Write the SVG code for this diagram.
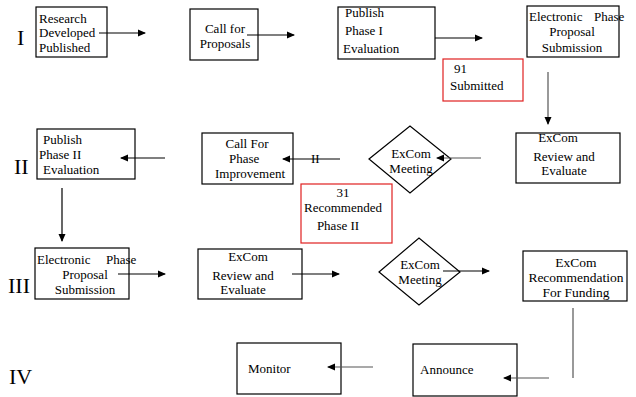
<svg xmlns="http://www.w3.org/2000/svg" width="636" height="397" viewBox="0 0 636 397">
<style>
.b{fill:#fff;stroke:#000;stroke-width:1.2}
.r{fill:#fff;stroke:#e02020;stroke-width:1.2}
.t{font-family:"Liberation Serif","Times New Roman",serif;font-size:13px;fill:#000}
.c{text-anchor:middle}
.n{font-family:"Liberation Serif","Times New Roman",serif;font-size:22px;fill:#000}
.l{stroke:#000;stroke-width:1.2;fill:none}
.g{stroke:#555;stroke-width:1.2;fill:none}
</style>
<defs>
<marker id="a" markerWidth="8" markerHeight="8" refX="7" refY="4" orient="auto" markerUnits="userSpaceOnUse">
<path d="M0,0.5 L8,4 L0,7.5 Z" fill="#000"/>
</marker>
</defs>
<rect width="636" height="397" fill="#fff"/>
<g id="labels">
<text class="n" x="17" y="45">I</text>
<text class="n" x="14" y="174">II</text>
<text class="n" x="8" y="293">III</text>
<text class="n" x="9" y="384">IV</text>
</g>
<g id="n1"><rect class="b" x="36" y="7" width="71" height="50"/>
<text class="t" x="39" y="23">Research</text><text class="t" x="39" y="37">Developed</text><text class="t" x="39" y="52">Published</text></g>
<g id="n2"><rect class="b" x="190" y="9" width="68" height="51"/>
<text class="t c" x="225" y="33">Call for</text><text class="t c" x="225" y="48">Proposals</text></g>
<g id="n3"><rect class="b" x="338" y="7" width="97" height="52"/>
<text class="t" x="345" y="17">Publish</text><text class="t" x="345" y="35">Phase I</text><text class="t" x="343" y="53">Evaluation</text></g>
<g id="n4"><rect class="b" x="527" y="6" width="92" height="51"/>
<text class="t" x="529" y="21">Electronic<tspan x="594">Phase</tspan></text><text class="t c" x="572" y="36">Proposal</text><text class="t c" x="572" y="52">Submission</text></g>
<g id="n5"><rect class="r" x="443" y="59" width="80" height="42"/>
<text class="t" x="454" y="73">91</text><text class="t" x="450" y="90">Submitted</text></g>
<g id="n6"><rect class="b" x="516" y="133" width="104" height="50"/>
<text class="t c" x="558" y="142">ExCom</text><text class="t c" x="564" y="161">Review and</text><text class="t c" x="564" y="175">Evaluate</text></g>
<g id="n7"><path class="b" d="M369,159 L410,126 L451,159 L410,193 Z"/>
<text class="t c" x="411" y="158">ExCom</text><text class="t c" x="411" y="173">Meeting</text></g>
<g id="n8"><rect class="b" x="202" y="133" width="91" height="51"/>
<text class="t c" x="247" y="148">Call For</text><text class="t" x="229" y="163">Phase</text><text class="t" x="215" y="178">Improvement</text></g>
<g id="n9"><rect class="b" x="37" y="129" width="98" height="50"/>
<text class="t" x="43" y="144">Publish</text><text class="t" x="39" y="159">Phase II</text><text class="t" x="43" y="174">Evaluation</text></g>
<g id="n10"><rect class="r" x="301" y="184" width="91" height="59"/>
<text class="t c" x="343" y="197">31</text><text class="t c" x="343" y="212">Recommended</text><text class="t c" x="338" y="230">Phase II</text></g>
<g id="n11"><rect class="b" x="35" y="248" width="94" height="51"/>
<text class="t" x="37" y="264">Electronic<tspan x="106">Phase</tspan></text><text class="t c" x="85" y="279">Proposal</text><text class="t c" x="85" y="294">Submission</text></g>
<g id="n12"><rect class="b" x="198" y="249" width="104" height="50"/>
<text class="t c" x="248" y="261">ExCom</text><text class="t c" x="243" y="280">Review and</text><text class="t c" x="243" y="294">Evaluate</text></g>
<g id="n13"><path class="b" d="M379,272 L419,238 L460,272 L419,305 Z"/>
<text class="t c" x="420" y="269">ExCom</text><text class="t c" x="420" y="284">Meeting</text></g>
<g id="n14"><rect class="b" x="523" y="251" width="104" height="50"/>
<text class="t c" x="576" y="267" style="font-size:13.5px">ExCom</text><text class="t c" x="576" y="282" style="font-size:13.5px">Recommendation</text><text class="t c" x="576" y="297" style="font-size:13.5px">For Funding</text></g>
<g id="n15"><rect class="b" x="413" y="344" width="104" height="52"/>
<text class="t" x="420" y="374">Announce</text></g>
<g id="n16"><rect class="b" x="237" y="343" width="104" height="51"/>
<text class="t" x="248" y="373">Monitor</text></g>
<g id="connectors">
<line class="l" x1="99" y1="33" x2="145" y2="33" marker-end="url(#a)"/>
<line class="l" x1="247" y1="35" x2="294" y2="35" marker-end="url(#a)"/>
<line class="l" x1="435" y1="38" x2="482" y2="38" marker-end="url(#a)"/>
<line class="g" x1="548" y1="72" x2="548" y2="124" marker-end="url(#a)"/>
<line class="g" x1="481" y1="158" x2="437" y2="158" marker-end="url(#a)"/>
<line class="l" x1="340" y1="159" x2="283" y2="159" marker-end="url(#a)"/>
<text class="t" x="311" y="163">II</text>
<line class="l" x1="165" y1="158" x2="121" y2="158" marker-end="url(#a)"/>
<line class="l" x1="62" y1="188" x2="62" y2="241" marker-end="url(#a)"/>
<line class="l" x1="118" y1="274" x2="165" y2="274" marker-end="url(#a)"/>
<line class="l" x1="292" y1="274" x2="339" y2="274" marker-end="url(#a)"/>
<line class="l" x1="443" y1="271" x2="489" y2="271" marker-end="url(#a)"/>
<line class="g" x1="573" y1="308" x2="573" y2="378"/>
<line class="g" x1="549" y1="378" x2="504" y2="378" marker-end="url(#a)"/>
<line class="g" x1="373" y1="367" x2="328" y2="367" marker-end="url(#a)"/>
</g>
</svg>
